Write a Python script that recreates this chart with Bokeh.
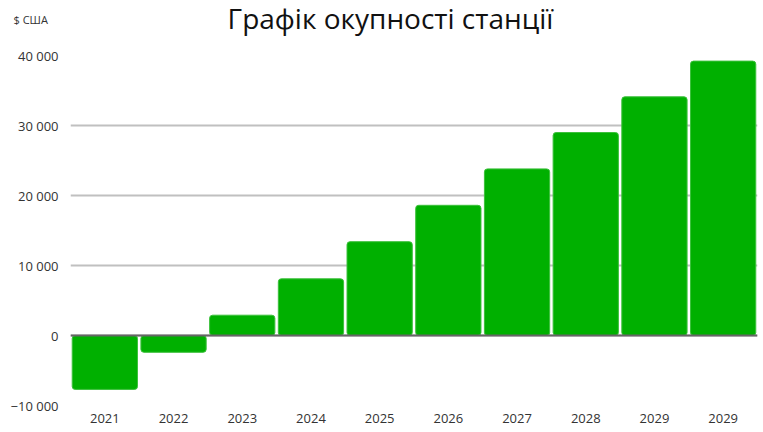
from bokeh.plotting import figure
from bokeh.layouts import column
from bokeh.models import FixedTicker, Span, ColumnDataSource
from bokeh.core.properties import value
from bokeh.embed import file_html
from bokeh.resources import INLINE

years = ["2021", "2022", "2023", "2024", "2025", "2026", "2027", "2028", "2029", "2029"]
values = [-7700, -2400, 2900, 8100, 13400, 18600, 23800, 29000, 34100, 39200]
yticks = [-10000, 0, 10000, 20000, 30000, 40000]
ytick_labels = ["−10 000", "0", "10 000", "20 000", "30 000", "40 000"]
title_text = "Графік окупності станції"
unit_text = "$ США"

FONT = "Open Sans"
W = 763
HEAD_H = 40
MAIN_H = 392

# ---- header with title and unit label (pixel-like coordinates, y downward)
head = figure(width=W, height=HEAD_H, output_backend="svg", toolbar_location=None,
              x_range=(0, W), y_range=(HEAD_H, 0),
              min_border=0, min_border_left=0, min_border_right=0,
              min_border_top=0, min_border_bottom=0)
head.frame_align = False
head.outline_line_color = None
head.axis.visible = False
head.grid.visible = False
head.text(x=[390], y=[17], text=[title_text], text_font=value(FONT), text_font_size="28px",
          text_color="#111111", text_align="center", text_baseline="middle")
head.text(x=[13], y=[19], text=[unit_text], text_font=value(FONT), text_font_size="11px",
          text_color="#333333", text_align="left", text_baseline="middle")

# ---- main chart
xs = list(range(len(years)))
src = ColumnDataSource(dict(x=xs, top=values))

p = figure(width=W, height=MAIN_H, output_backend="svg", toolbar_location=None,
           x_range=(-0.5, len(years) - 0.5), y_range=(yticks[0], yticks[-1]),
           min_border_left=70, min_border_right=6, min_border_top=15, min_border_bottom=27)
p.frame_align = False
p.outline_line_color = None

p.vbar(x="x", top="top", bottom=0, width=0.95, source=src,
       fill_color="#00b000", line_color="#3cc03c", line_width=1, border_radius=3)

p.add_layout(Span(location=0, dimension="width", line_color="#666666", line_width=2, level="overlay"))

p.xaxis.ticker = FixedTicker(ticks=xs)
p.xaxis.major_label_overrides = {i: y for i, y in enumerate(years)}
p.yaxis.ticker = FixedTicker(ticks=yticks)
p.yaxis.major_label_overrides = {t: l for t, l in zip(yticks, ytick_labels)}
for ax in (p.xaxis[0], p.yaxis[0]):
    ax.axis_line_color = None
    ax.major_tick_line_color = None
    ax.minor_tick_line_color = None
    ax.major_tick_out = 0
    ax.major_tick_in = 0
    ax.major_label_text_font = FONT
    ax.major_label_text_font_size = "13px"
    ax.major_label_text_color = "#333333"
p.xaxis.major_label_standoff = 8
p.yaxis.major_label_standoff = 12

p.xgrid.grid_line_color = None
p.ygrid.ticker = FixedTicker(ticks=yticks)
p.ygrid.grid_line_color = "#c0c0c0"
p.ygrid.grid_line_width = 2

layout = column(head, p, spacing=0)
open("out.html", "w").write(file_html(layout, INLINE))
